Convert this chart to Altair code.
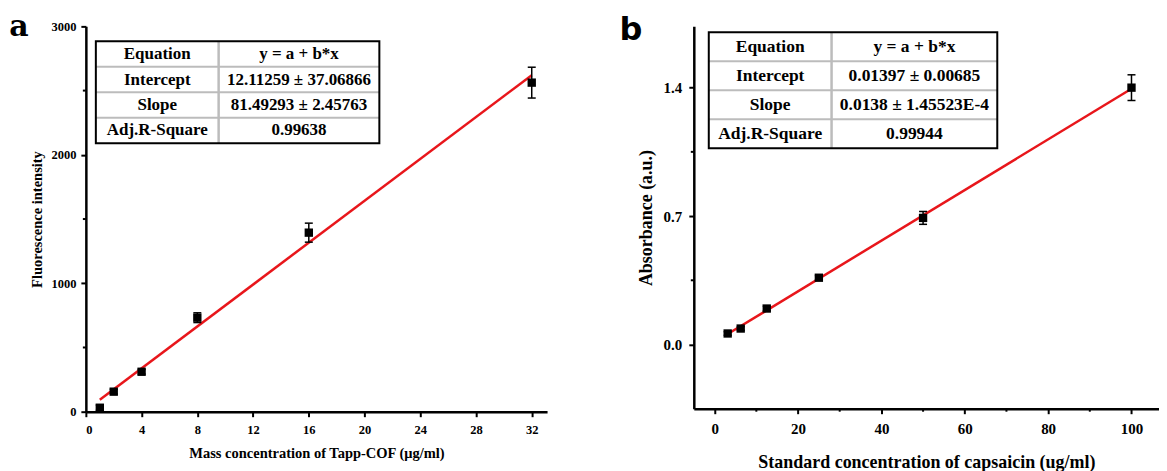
import altair as alt
import pandas as pd

# ---------------- data (panel a) ----------------
a_conc = [1, 2, 4, 8, 16, 32]
a_fluor = [31, 156, 311, 732, 1394, 2562]
a_err = [20, 18, 18, 38, 74, 120]
a_intercept = 12.11259
a_slope = 81.49293
a_keys = ["Equation", "Intercept", "Slope", "Adj.R-Square"]
a_vals = ["y = a + b*x", "12.11259 ± 37.06866", "81.49293 ± 2.45763", "0.99638"]
a_xticks = [0, 4, 8, 12, 16, 20, 24, 28, 32]
a_yticks = [0, 1000, 2000, 3000]
a_yminor = [500, 1500, 2500]

# ---------------- data (panel b) ----------------
b_conc = [3.125, 6.25, 12.5, 25, 50, 100]
b_abs = [0.060, 0.087, 0.196, 0.364, 0.690, 1.400]
b_err = [0.010, 0.010, 0.012, 0.012, 0.035, 0.070]
b_intercept = 0.01397
b_slope = 0.0138
b_keys = ["Equation", "Intercept", "Slope", "Adj.R-Square"]
b_vals = ["y = a + b*x", "0.01397 ± 0.00685", "0.0138 ± 1.45523E-4", "0.99944"]
b_xticks = [0, 20, 40, 60, 80, 100]
b_xminor = [10, 30, 50, 70, 90]
b_yticks = [0.0, 0.7, 1.4]
b_yminor = [0.35, 1.05]

SERIF = "Liberation Serif"
RED = "#e8161b"


def table_layers(keys, vals, left, right, top, bottom, split, fsize):
    n = len(keys)
    rh = (bottom - top) / n
    cells = []
    for i, (k, v) in enumerate(zip(keys, vals)):
        yc = top + rh * (i + 0.5)
        cells.append({"t": k, "px": (left + split) / 2, "py": yc})
        cells.append({"t": v, "px": (split + right) / 2, "py": yc})
    cdf = pd.DataFrame(cells)
    hl = pd.DataFrame({"x1": [left] * (n - 1), "x2": [right] * (n - 1),
                       "y1": [top + rh * (i + 1) for i in range(n - 1)]})
    vl = pd.DataFrame({"x1": [split], "y1": [top], "y2": [bottom]})
    box = pd.DataFrame({"x1": [left], "x2": [right], "y1": [top], "y2": [bottom]})
    white = alt.Chart(box).mark_rect(fill="white").encode(
        x=alt.X("x1:Q", scale=None, axis=None), x2="x2:Q",
        y=alt.Y("y1:Q", scale=None, axis=None), y2="y2:Q")
    hlines = alt.Chart(hl).mark_rule(color="#bcbcbc", strokeWidth=2).encode(
        x=alt.X("x1:Q", scale=None, axis=None), x2="x2:Q",
        y=alt.Y("y1:Q", scale=None, axis=None))
    vlines = alt.Chart(vl).mark_rule(color="#bcbcbc", strokeWidth=2.5).encode(
        x=alt.X("x1:Q", scale=None, axis=None),
        y=alt.Y("y1:Q", scale=None, axis=None), y2="y2:Q")
    border = alt.Chart(box).mark_rect(fill=None, stroke="black", strokeWidth=2).encode(
        x=alt.X("x1:Q", scale=None, axis=None), x2="x2:Q",
        y=alt.Y("y1:Q", scale=None, axis=None), y2="y2:Q")
    text = alt.Chart(cdf).mark_text(font=SERIF, fontWeight="bold", fontSize=fsize,
                                     color="black", baseline="middle", align="center").encode(
        x=alt.X("px:Q", scale=None, axis=None),
        y=alt.Y("py:Q", scale=None, axis=None), text="t:N")
    return [white, hlines, vlines, border, text]


def panel(conc, vals, errs, intercept, slope, keys, tvals, W, H, xdom, ydom,
          xticks, yticks, xminor, yminor, xfmt, yfmt, xtitle, ytitle,
          lab_size, title_size, tgeom, tsize, letter, letter_pos, letter_font,
          letter_size, ytitle_pad, xtitle_pad, xlab_pad, ylab_pad):
    df = pd.DataFrame({"x": conc, "y": vals, "e": errs})
    df["lo"] = df["y"] - df["e"]
    df["hi"] = df["y"] + df["e"]
    xs = alt.Scale(domain=xdom, nice=False, zero=False)
    ys = alt.Scale(domain=ydom, nice=False, zero=False)
    common = dict(domainColor="black", domainWidth=2.5, tickColor="black", tickWidth=2,
                  tickSize=5, labelFont=SERIF, labelFontWeight="bold", labelColor="black",
                  labelFontSize=lab_size, titleFont=SERIF, titleFontWeight="bold",
                  titleColor="black", titleFontSize=title_size, grid=False)
    xaxis = alt.Axis(values=xticks, format=xfmt, title=xtitle, labelPadding=xlab_pad,
                     titlePadding=xtitle_pad, **common)
    yaxis = alt.Axis(values=yticks, format=yfmt, title=ytitle, labelPadding=ylab_pad,
                     titlePadding=ytitle_pad, **common)

    line_df = pd.DataFrame({"x": [min(conc), max(conc)]})
    fit = alt.Chart(line_df).mark_line(color=RED, strokeWidth=2.5).transform_calculate(
        yf=f"{intercept} + {slope} * datum.x").encode(
        x=alt.X("x:Q", scale=xs, axis=xaxis), y=alt.Y("yf:Q", scale=ys, axis=yaxis))
    bars = alt.Chart(df).mark_rule(color="black", strokeWidth=1.5).encode(
        x=alt.X("x:Q", scale=xs), y=alt.Y("lo:Q", scale=ys), y2="hi:Q")
    cap_hi = alt.Chart(df).mark_rule(color="black", strokeWidth=1.5, xOffset=-4, x2Offset=4).encode(
        x=alt.X("x:Q", scale=xs), x2="x:Q", y=alt.Y("hi:Q", scale=ys))
    cap_lo = alt.Chart(df).mark_rule(color="black", strokeWidth=1.5, xOffset=-4, x2Offset=4).encode(
        x=alt.X("x:Q", scale=xs), x2="x:Q", y=alt.Y("lo:Q", scale=ys))
    pts = alt.Chart(df).mark_square(color="black", size=70, opacity=1).encode(
        x=alt.X("x:Q", scale=xs), y=alt.Y("y:Q", scale=ys))
    layers = [fit, bars, cap_hi, cap_lo, pts]
    if yminor:
        ym = alt.Chart(pd.DataFrame({"v": yminor})).mark_rule(color="black", strokeWidth=2).encode(
            y=alt.Y("v:Q", scale=ys), x=alt.value(0), x2=alt.value(-3))
        layers.append(ym)
    if xminor:
        xm = alt.Chart(pd.DataFrame({"v": xminor})).mark_rule(color="black", strokeWidth=2).encode(
            x=alt.X("v:Q", scale=xs), y=alt.value(H), y2=alt.value(H + 3))
        layers.append(xm)
    layers += table_layers(keys, tvals, *tgeom, tsize)
    lt = alt.Chart(pd.DataFrame({"t": [letter]})).mark_text(
        font=letter_font, fontWeight="bold", fontSize=letter_size, color="black",
        baseline="middle", align="center").encode(
        x=alt.value(letter_pos[0]), y=alt.value(letter_pos[1]), text="t:N")
    layers.append(lt)
    return alt.layer(*layers).properties(width=W, height=H)


pa = panel(a_conc, a_fluor, a_err, a_intercept, a_slope, a_keys, a_vals,
           462, 386, [0, 33.1], [0, 3000], a_xticks, a_yticks, None, a_yminor,
           "d", "d", "Mass concentration of Tapp-COF (μg/ml)", "Fluorescence intensity",
           12.5, 14.5, (10, 294, 15, 117, 133), 17, "a", (-67, 1), "DejaVu Serif", 30,
           6, 10, 7, 5)

pb = panel(b_conc, b_abs, b_err, b_intercept, b_slope, b_keys, b_vals,
           466, 383, [-5, 106.6], [-0.35, 1.734], b_xticks, b_yticks, b_xminor, b_yminor,
           "d", ".1f", "Standard concentration of capsaicin (ug/ml)", "Absorbance (a.u.)",
           15, 18, (15, 304, 6, 122, 138), 17.5, "b", (-63, 4), "DejaVu Sans", 32,
           8, 17, 8, 7)

chart = alt.hconcat(pa, pb, spacing=72).properties(
    padding={"left": 1, "top": 4, "right": 0, "bottom": 0}
).configure_view(stroke=None)

chart.save("out.html", embed_options={"renderer": "svg", "actions": False})
